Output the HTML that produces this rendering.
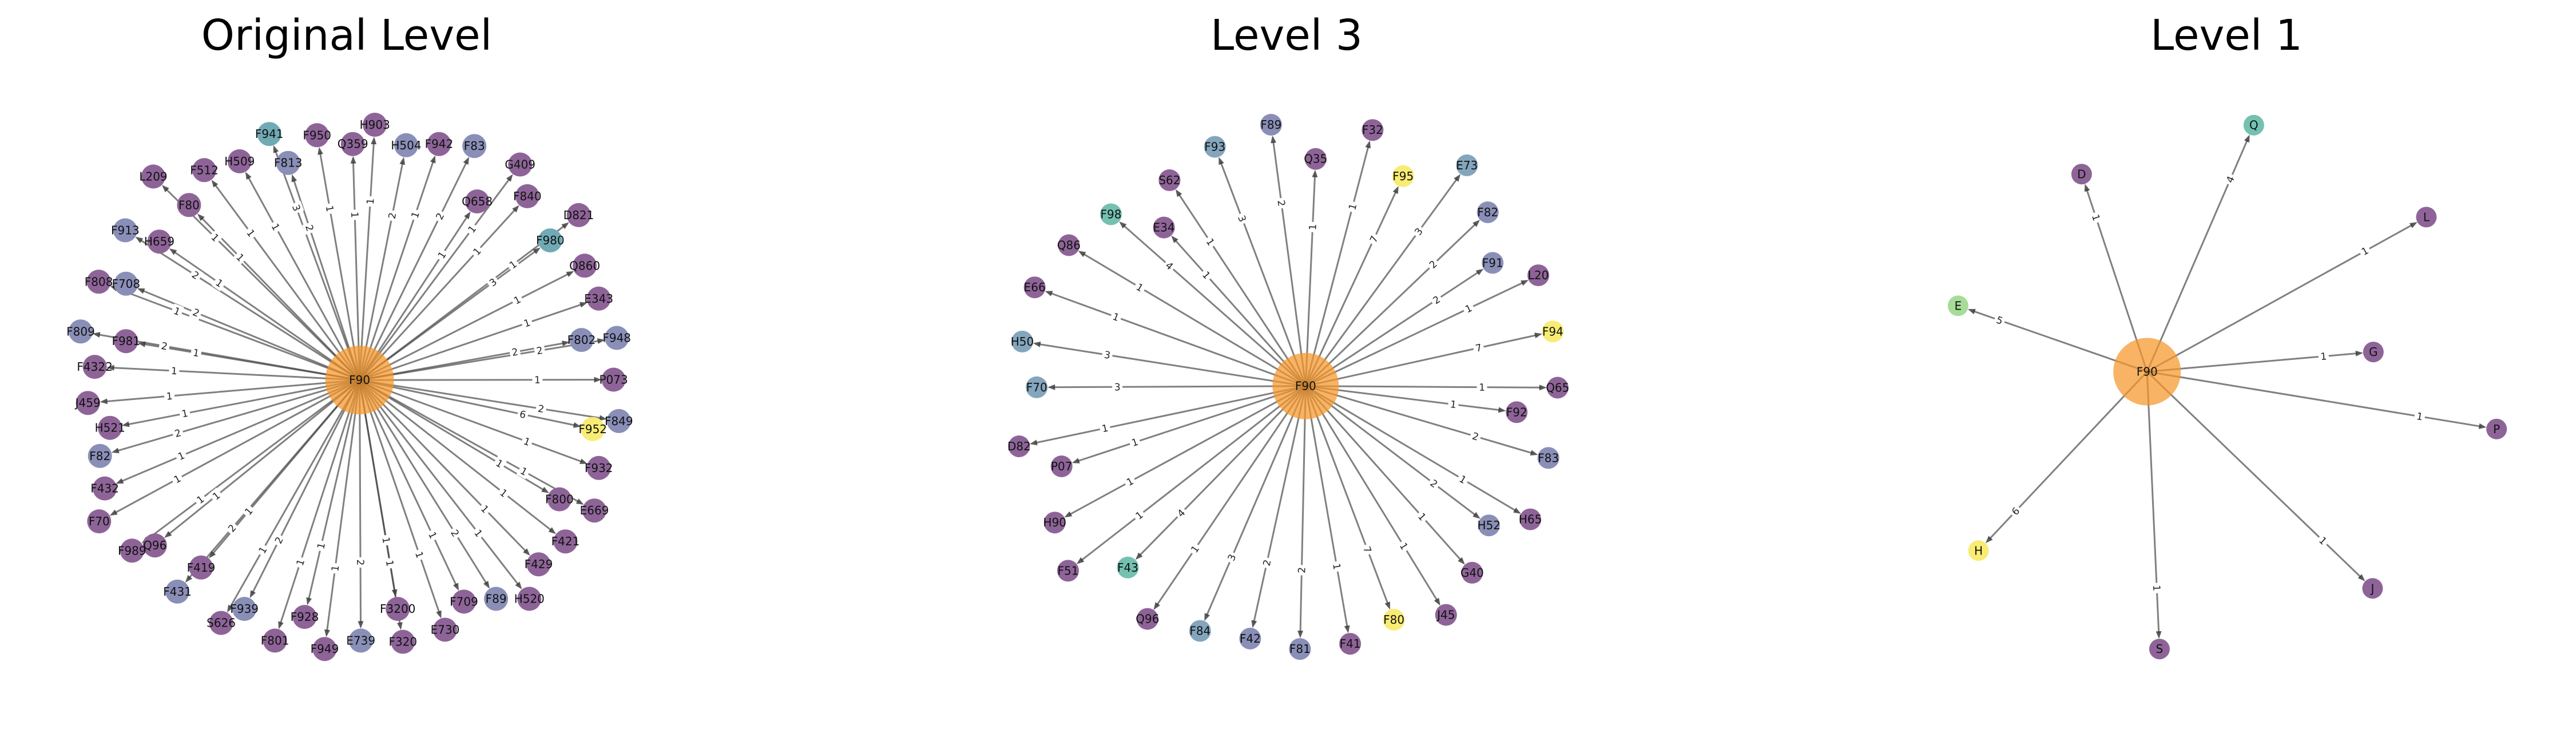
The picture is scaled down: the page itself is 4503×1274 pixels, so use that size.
<!DOCTYPE html>
<html><head><meta charset="utf-8"><style>
html,body{margin:0;padding:0;background:#fff;}
svg{display:block;font-family:"DejaVu Sans","Liberation Sans",sans-serif;}
</style></head>
<body>
<svg id="chart" width="4503" height="1274" viewBox="0 0 4503 1274" xmlns="http://www.w3.org/2000/svg">
<text x="606" y="87" font-size="74" text-anchor="middle">Original Level</text>
<text x="2249" y="87" font-size="74" text-anchor="middle">Level 3</text>
<text x="3892" y="87" font-size="74" text-anchor="middle">Level 1</text>
<g id="g1"></g>
<g id="g2"></g>
<g id="g3"></g>
</svg>
<script>
// Panel 1 (Original Level) data
const p1Nodes = ["F941","F950","Q359","H903","H504","F942","F83","G409","Q658","F840","D821","F980","Q860","E343","F802","F948","P073","F849","F952","F932","F800","E669","F421","F429","H520","F89","F709","E730","F320","F3200","E739","F949","F928","F801","F939","S626","F419","F431","Q96","F989","F70","F432","F82","H521","J459","F4322","F809","F981","F808","F708","F913","H659","L209","F80","F512","H509","F813"];
const p1X = [557,676,765,820,898,980,1068,1182,1075,1200,1328,1257,1343,1378,1335,1423,1415,1428,1363,1378,1280,1367,1295,1228,1205,1122,1042,995,890,877,785,695,645,571,495,437,387,328,272,215,133,147,135,160,105,122,87,200,132,200,198,283,268,357,395,483,604];
const p1Y = [120,123,145,97,148,145,150,196,288,275,322,385,448,530,633,628,732,835,855,952,1030,1058,1135,1192,1278,1278,1285,1355,1385,1303,1382,1403,1323,1382,1303,1338,1200,1260,1145,1158,1085,1003,922,852,790,700,612,636,488,493,360,388,226,297,210,188,192];
const p1Col = ["T","P","P","P","B","P","B","P","P","P","P","T","P","P","B","B","P","B","Y","P","P","P","P","P","P","B","P","P","P","P","B","P","P","P","B","P","P","B","P","P","P","P","B","P","P","P","B","P","P","B","B","P","P","P","P","P","B"];
const p1W = [3,1,1,1,2,1,2,1,1,1,1,3,1,1,2,2,1,2,6,1,1,1,1,1,1,2,1,1,1,1,2,1,1,1,2,1,1,2,1,1,1,1,2,1,1,1,2,1,1,2,2,1,1,1,1,1,2];
// Panel 2 (Level 3)
const p2Nodes = ["F89","F32","F93","Q35","F95","E73","S62","F98","E34","F82","Q86","F91","L20","E66","F94","H50","F70","Q65","F92","D82","F83","P07","H90","H65","H52","F51","F43","G40","Q96","F84","F42","F81","F41","F80","J45"];
const p2X = [744,997,604,855,1073,1232,491,345,477,1284,240,1296,1410,155,1446,124,160,1458,1356,116,1435,222,205,1390,1287,238,387,1245,436,567,692,816,941,1050,1180];
const p2Y = [97,110,152,182,225,198,235,320,353,315,397,441,472,502,612,637,751,752,813,898,927,948,1088,1080,1095,1208,1200,1213,1328,1358,1377,1403,1390,1330,1318];
const p2Col = ["B","P","C","P","Y","C","P","G","P","B","P","B","P","P","Y","C","C","P","P","P","B","P","P","P","B","P","G","P","P","C","B","B","P","Y","P"];
const p2W = [2,1,3,1,7,3,1,4,1,2,1,2,1,1,7,3,3,1,1,1,2,1,1,1,2,1,4,1,1,3,2,2,1,7,1];
// Panel 3 (Level 1)
const p3Nodes = ["Q","D","L","E","G","P","H","S","J"];
const p3X = [912,483,1342,175,1210,1517,226,677,1208];
const p3Y = [98,220,327,548,663,855,1158,1403,1252];
const p3Col = ["G","P","P","L","P","P","Y","P","P"];
const p3W = [4,1,1,5,1,1,6,1,1];

const COLORS = {P:"#8e6498",B:"#8a8fb8",T:"#70aab5",Y:"#f8ec74",C:"#84a6bd",G:"#74c1b2",L:"#a6dc98"};
const NS = "http://www.w3.org/2000/svg";
const S = 1.4255;
function mk(tag, attrs, parent){const e=document.createElementNS(NS,tag);for(const k in attrs)e.setAttribute(k,attrs[k]);parent.appendChild(e);return e;}

function draw(gid, x0, y0, cx, cy, names, xs, ys, cols, ws, nodeR, centerR, frac){
  const g = document.getElementById(gid);
  const ox = x0 + cx/S, oy = y0 + cy/S;
  const eg = mk("g",{},g);
  const lg = mk("g",{},g);
  const ng = mk("g",{},g);
  // center node first (under edges visually overlaps in original: orange semi-transparent on top)
  for(let i=0;i<names.length;i++){
    const tx = x0 + xs[i]/S, ty = y0 + ys[i]/S;
    const dx = tx-ox, dy = ty-oy, L = Math.hypot(dx,dy);
    const ux = dx/L, uy = dy/L;
    const ex = tx - ux*nodeR, ey = ty - uy*nodeR;
    const line = mk("line",{x1:ox.toFixed(1),y1:oy.toFixed(1),x2:(ex-ux*10).toFixed(1),y2:(ey-uy*10).toFixed(1),stroke:"rgba(60,60,60,0.65)","stroke-width":3},eg);
    
    
    const px=-uy, py=ux;
    const ah = mk("polygon",{points:[ex,ey, ex-ux*13+px*5, ey-uy*13+py*5, ex-ux*13-px*5, ey-uy*13-py*5].map(v=>v.toFixed(1)).join(" "),fill:"rgba(50,50,50,0.8)"},eg);
    
    
    const lx = ox + dx*frac, ly = oy + dy*frac;
    let ang = Math.atan2(dy,dx)*180/Math.PI;
    if(ang>90) ang-=180; if(ang<=-90) ang+=180;
    const lgrp = mk("g",{transform:`translate(${lx.toFixed(1)},${ly.toFixed(1)}) rotate(${ang.toFixed(1)})`},lg);
    
    
    mk("rect",{x:-9,y:-11,width:18,height:22,fill:"#fff"},lgrp);
    const t = mk("text",{x:0,y:6,"font-size":17,"text-anchor":"middle",fill:"#222"},lgrp);
    t.textContent = ws[i];
    const c = mk("circle",{cx:tx.toFixed(1),cy:ty.toFixed(1),r:nodeR,fill:COLORS[cols[i]]},ng);
    
    
    const nt = mk("text",{x:tx.toFixed(1),y:(ty+7).toFixed(1),"font-size":20,"text-anchor":"middle",fill:"#111"},ng);
    nt.textContent = names[i];
    
    
  }
  const cc = mk("circle",{cx:ox.toFixed(1),cy:oy.toFixed(1),r:centerR,fill:"rgba(245,150,40,0.72)"},ng);
  
  
  const ct = mk("text",{x:ox.toFixed(1),y:(oy+7).toFixed(1),"font-size":20,"text-anchor":"middle",fill:"#111"},ng);
  ct.textContent = "F90";
  
  
}
draw("g1", 80, 150, 782, 733, p1Nodes, p1X, p1Y, p1Col, p1W, 21, 60, 0.7);
draw("g2", 1700, 150, 830, 748, p2Nodes, p2X, p2Y, p2Col, p2W, 19, 58, 0.7);
draw("g3", 3300, 150, 646, 712, p3Nodes, p3X, p3Y, p3Col, p3W, 18, 59, 0.78);
</script>
</body></html>
